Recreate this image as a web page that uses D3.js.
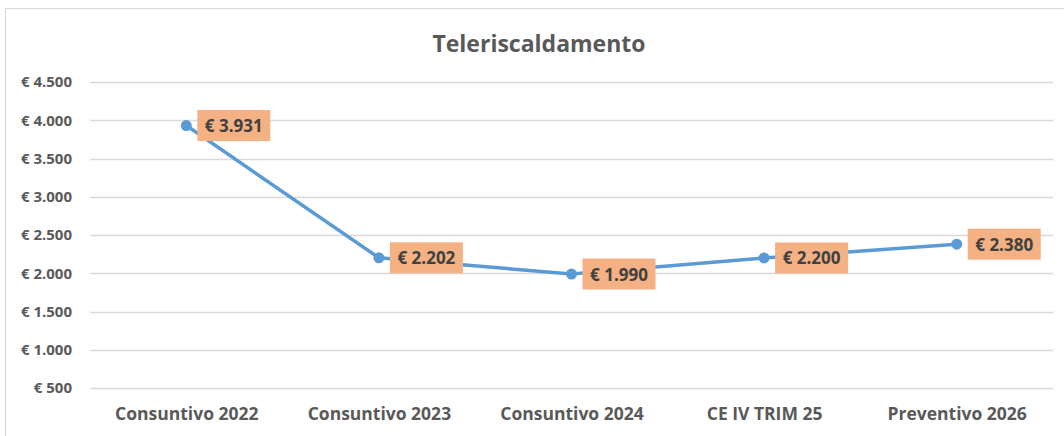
<!DOCTYPE html>
<html>
<head>
<meta charset="utf-8">
<script src="https://cdn.jsdelivr.net/npm/d3@7"></script>
<style>
  body { margin: 0; background: #fff; }
  svg { display: block; font-family: "Open Sans", "Liberation Sans", sans-serif; }
</style>
</head>
<body>
<script>
// data
var categories = ["Consuntivo 2022", "Consuntivo 2023", "Consuntivo 2024", "CE IV TRIM 25", "Preventivo 2026"];
var values = [3931, 2202, 1990, 2200, 2380];
var yTicks = [500, 1000, 1500, 2000, 2500, 3000, 3500, 4000, 4500];
var chartTitle = "Teleriscaldamento";

var W = 1064, H = 436;
var margin = {top: 82, right: 11, bottom: 48, left: 90};
var width = W - margin.left - margin.right,
    height = H - margin.top - margin.bottom;

var fmt = function(v) {
  return "€ " + d3.format(",")(v).replace(/,/g, ".");
};

var svg = d3.select("body").append("svg")
    .attr("width", W)
    .attr("height", H);

// chart frame
svg.append("rect")
    .attr("x", 5.5).attr("y", 8.5)
    .attr("width", W + 10).attr("height", H + 10)
    .attr("fill", "#fff")
    .attr("stroke", "#d9d9d9");

svg.append("text")
    .attr("x", 539).attr("y", 52)
    .attr("text-anchor", "middle")
    .attr("font-size", 23).attr("font-weight", "bold")
    .attr("fill", "#595959")
    .text(chartTitle);

var g = svg.append("g")
    .attr("transform", "translate(" + margin.left + "," + margin.top + ")");

var x = d3.scalePoint()
    .domain(categories)
    .range([0, width])
    .padding(0.5);

var y = d3.scaleLinear()
    .domain([500, 4500])
    .range([height, 0]);

// gridlines
g.append("g")
    .selectAll("line")
    .data(yTicks)
    .enter().append("line")
    .attr("x1", 0).attr("x2", width)
    .attr("y1", function(d) { return Math.round(y(d)) + 0.5; })
    .attr("y2", function(d) { return Math.round(y(d)) + 0.5; })
    .attr("stroke", "#d9d9d9")
    .attr("stroke-width", 1.3);

// y axis labels
var yAxis = g.append("g")
    .call(d3.axisLeft(y).tickValues(yTicks).tickFormat(fmt).tickSize(0).tickPadding(18));
yAxis.select(".domain").remove();
yAxis.selectAll("text")
    .attr("font-family", "'Open Sans', sans-serif")
    .attr("font-size", 15).attr("font-weight", "bold")
    .attr("fill", "#595959");

// x axis labels
var xAxis = g.append("g")
    .attr("transform", "translate(0," + height + ")")
    .call(d3.axisBottom(x).tickSize(0).tickPadding(20));
xAxis.select(".domain").remove();
xAxis.selectAll("text")
    .attr("font-family", "'Open Sans', sans-serif")
    .attr("font-size", 17.5).attr("font-weight", "bold")
    .attr("fill", "#595959");

var data = categories.map(function(c, i) { return {cat: c, val: values[i]}; });

var line = d3.line()
    .x(function(d) { return x(d.cat); })
    .y(function(d) { return y(d.val); });

g.append("path")
    .datum(data)
    .attr("fill", "none")
    .attr("stroke", "#5b9bd5")
    .attr("stroke-width", 3.5)
    .attr("stroke-linejoin", "round")
    .attr("d", line);

g.selectAll(".dot")
    .data(data)
    .enter().append("circle")
    .attr("class", "dot")
    .attr("cx", function(d) { return x(d.cat); })
    .attr("cy", function(d) { return y(d.val); })
    .attr("r", 5.5)
    .attr("fill", "#5b9bd5");

// data labels
var lbl = g.selectAll(".lbl")
    .data(data)
    .enter().append("g")
    .attr("class", "lbl")
    .attr("transform", function(d) { return "translate(" + (x(d.cat) + 11) + "," + y(d.val) + ")"; });

lbl.append("rect")
    .attr("x", 0).attr("y", -15.5)
    .attr("width", 73).attr("height", 31)
    .attr("fill", "#f4b183");

lbl.append("text")
    .attr("x", 36.5).attr("y", 6.5)
    .attr("text-anchor", "middle")
    .attr("font-size", 17).attr("font-weight", "bold")
    .attr("fill", "#404040")
    .text(function(d) { return fmt(d.val); });
</script>
</body>
</html>
